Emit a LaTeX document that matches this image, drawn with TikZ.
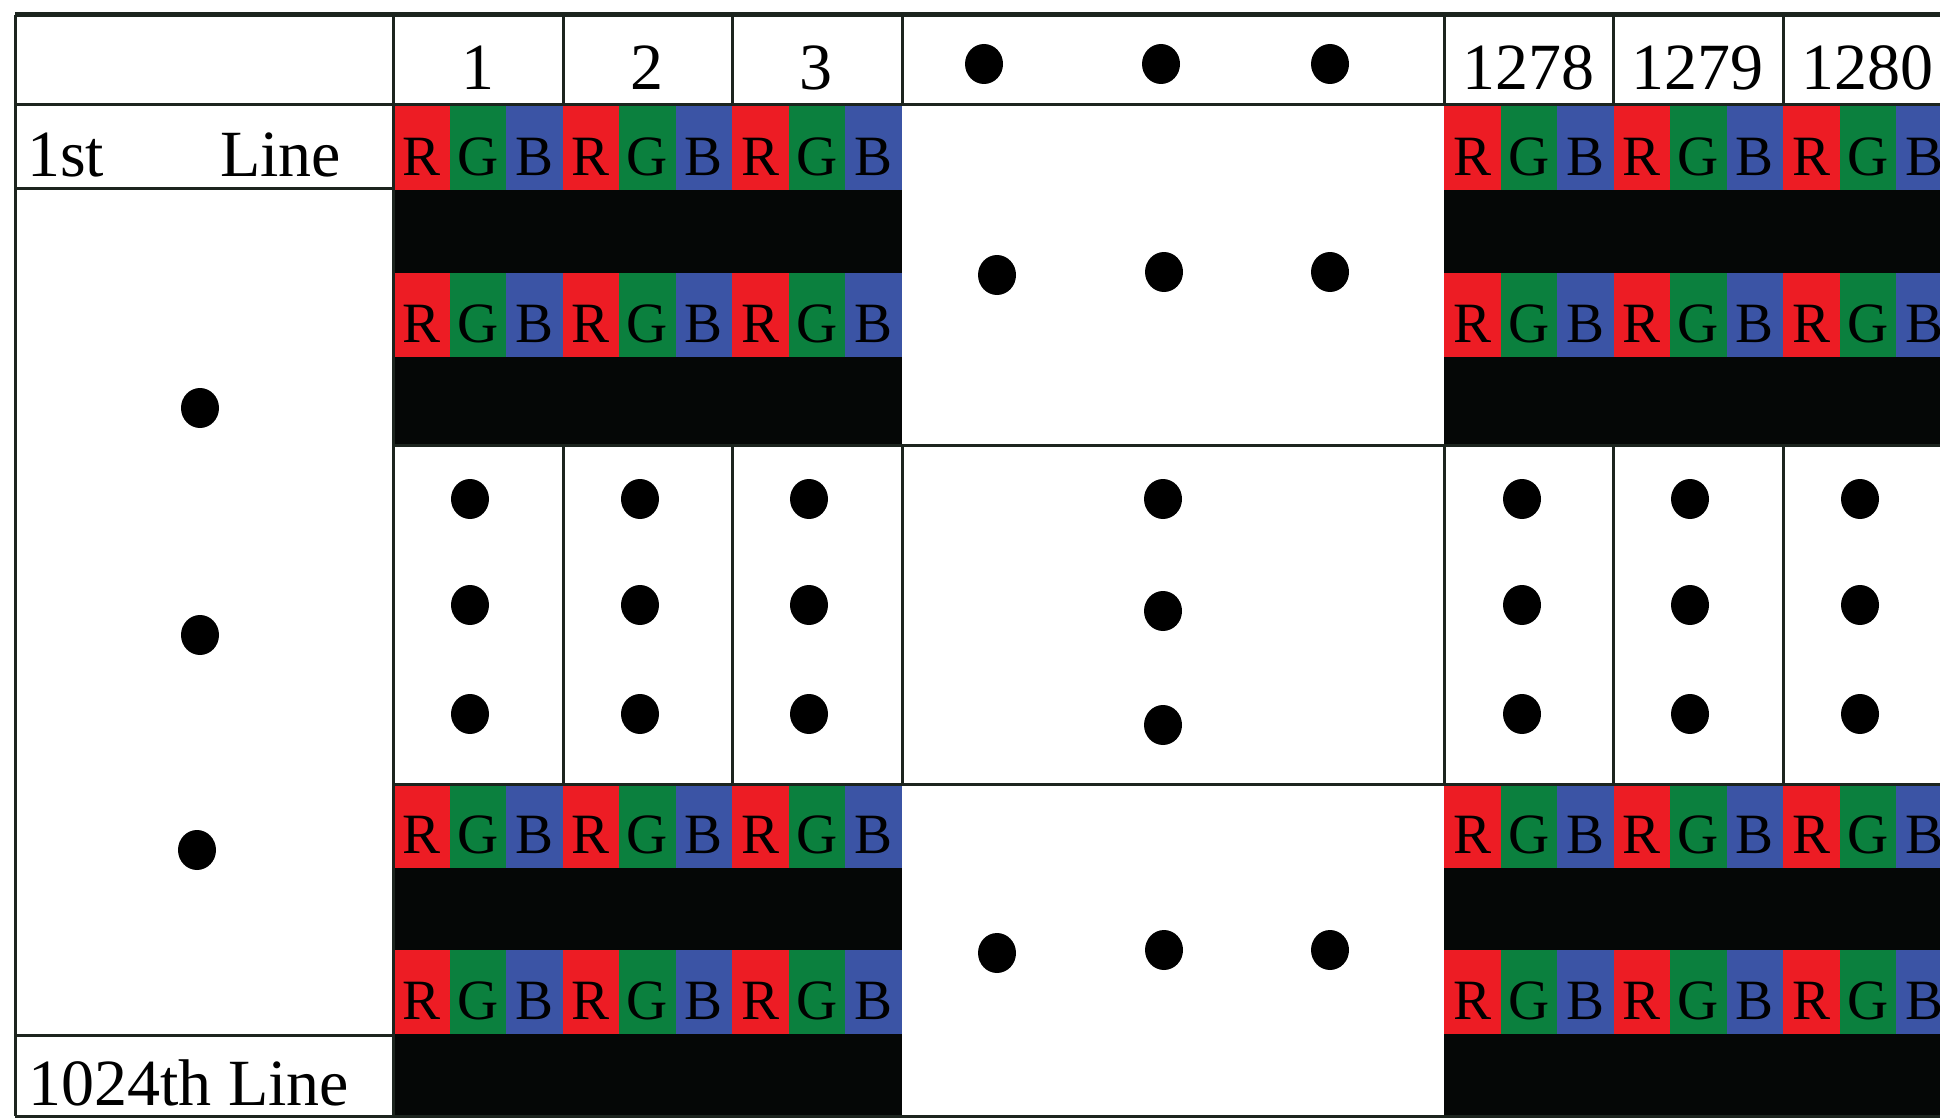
\documentclass[tikz,border=0pt]{standalone}
\usepackage{fontspec}
\setmainfont{Liberation Serif}
\definecolor{subR}{RGB}{237,28,36}
\definecolor{subG}{RGB}{11,128,62}
\definecolor{subB}{RGB}{59,84,165}
\definecolor{band}{RGB}{5,7,6}
\definecolor{rule}{RGB}{28,36,30}
\newcommand{\pdot}[1]{\fill[black] #1 ellipse [x radius=19pt, y radius=20pt];}

\begin{document}
\begin{tikzpicture}[x=1pt, y=-1pt,
  sub/.style={minimum width=56.5pt, minimum height=84pt, inner sep=0pt, outer sep=0pt, text height=55pt, text depth=0pt, font=\fontsize{57}{60}\selectfont},
  big/.style={inner sep=0pt, font=\fontsize{66}{70}\selectfont},
  grid/.style={draw=rule, line width=3pt}]
\useasboundingbox (0,0) rectangle (1940,1118);
\clip (0,0) rectangle (1940,1118);
\fill[white] (0,0) rectangle (1940,1118);
\foreach \x in {393,1444} \foreach \y/\h in {189/273, 357/445, 867/950, 1033/1118} \fill[band] (\x,\y) rectangle (\x+508.5,\h);
\foreach \x/\g in {393/l,1444/r} \foreach \y/\r in {148/a,315/b,826/c,991.5/d}
  \foreach \c [count=\i from 0] in {R,G,B,R,G,B,R,G,B}
    \node[sub, fill=sub\c] (\g\r\i) at (\x+28.25+56.5*\i,\y) {\c};
\draw[grid, line width=5pt] (15,15) -- (1940,15);
\draw[grid] (15,105) -- (1940,105) (15,189) -- (393,189) (393,445) -- (1940,445) (393,784) -- (1940,784) (15,1035) -- (393,1035) (15,1116) -- (1940,1116);
\draw[grid] (15,15) -- (15,1116) (393,15) -- (393,1116);
\foreach \x in {563,732,902,1444,1613,1783} \draw[grid] (\x,15) -- (\x,105) (\x,445) -- (\x,784);
\node[big, anchor=base] (c1) at (478,90) {1};
\node[big, anchor=base] (c2) at (647,90) {2};
\node[big, anchor=base] (c3) at (816,90) {3};
\node[big, anchor=base] (c1278) at (1528,90) {1278};
\node[big, anchor=base] (c1279) at (1697,90) {1279};
\node[big, anchor=base] (c1280) at (1867,90) {1280};
\node[big, anchor=base west] (first) at (27,177) {1st};
\node[big, anchor=base west] (firstline) at (220,177) {Line};
\node[big, anchor=base west] (last) at (28,1105) {1024th Line};
\foreach \p in {(984,64),(1161,64),(1330,64),(997,275),(1164,272),(1330,272),(997,953),(1164,950),(1330,950),(200,408),(200,635),(197,850),(1163,499),(1163,611),(1163,725)} {\pdot{\p}}
\foreach \x in {470,640,809,1522,1690,1860} \foreach \y in {499,605,714} {\pdot{(\x,\y)}}
\end{tikzpicture}
\end{document}
